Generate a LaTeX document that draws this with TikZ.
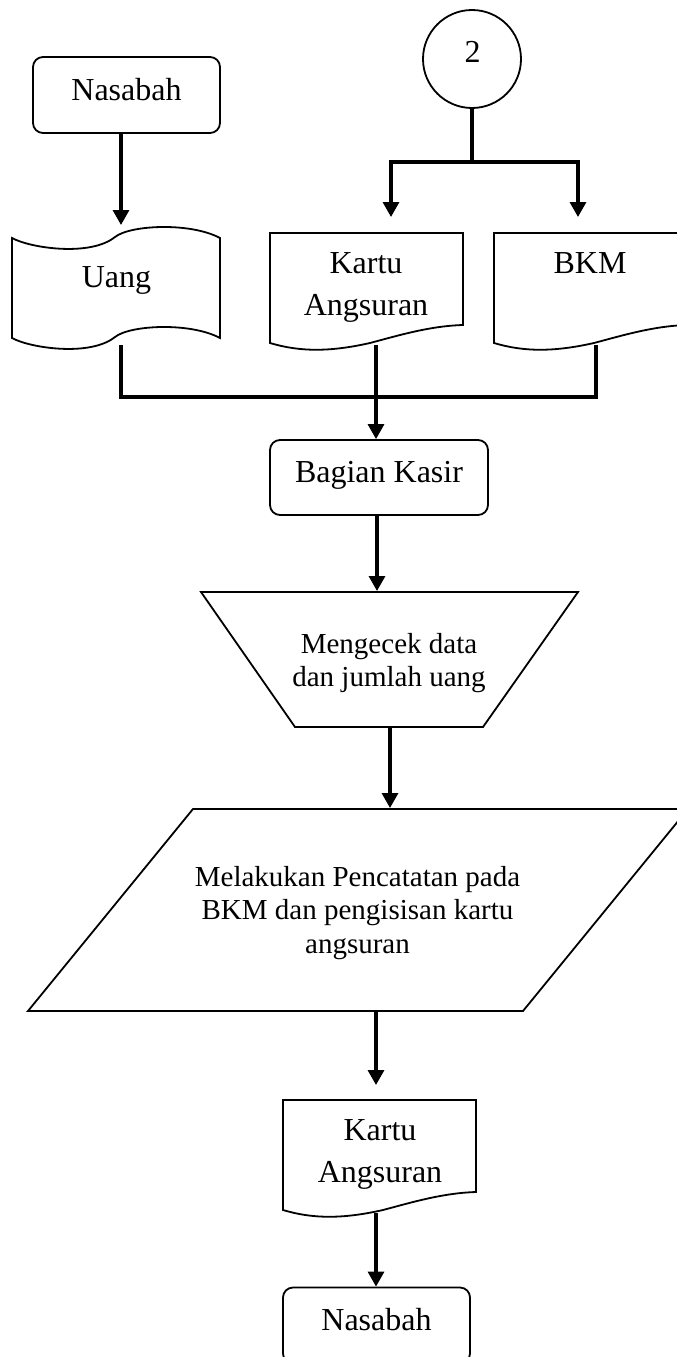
\documentclass[tikz,border=0pt]{standalone}
\usepackage{fontspec}
\setmainfont{Liberation Serif}
\usetikzlibrary{arrows.meta}
\begin{document}
\begin{tikzpicture}[x=1pt,y=-1pt,
  shapeline/.style={draw=black, line width=1.8pt},
  termbox/.style={shapeline, rounded corners=10pt, minimum width=187pt,
    minimum height=76pt, inner sep=0pt, text height=22pt, text depth=12pt,
    font=\fontsize{32}{41}\selectfont},
  lbl/.style={align=center, inner sep=0pt, font=\fontsize{32}{42}\selectfont},
  smalllbl/.style={align=center, inner sep=0pt, font=\fontsize{29}{33.5}\selectfont},
  flow/.style={line width=3.2pt, -{Triangle[width=16pt,length=15pt]}},
  link/.style={line width=3.2pt},
  docshape/.pic={
    \draw[shapeline] (0,0) -- (193,0) -- (193,92)
      .. controls (160,93) and (130,102) .. (100,110)
      .. controls (60,119) and (30,119) .. (0,110) -- cycle;
  },
]
\useasboundingbox (0,0) rectangle (677,1357);
\fill[white] (0,0) rectangle (677,1357);
\clip (0,0) rectangle (677,1357);

% --- customer and money
\node[termbox] (nas1) at (126.5,95) {Nasabah};
\coordinate (uangin) at (121,225);
\draw[flow] (nas1.south -| uangin) -- (uangin);

\draw[shapeline] (12,238) .. controls (30,248) and (90,257) .. (115,237)
  .. controls (130,225) and (190,222) .. (220,238) -- (220,338)
  .. controls (190,322) and (130,325) .. (115,337)
  .. controls (90,357) and (30,348) .. (12,338) -- cycle;
\node[lbl, anchor=base] (uang) at (116.5,287) {Uang};

% --- connector 2 and its documents
\node[shapeline, circle, minimum size=98pt, inner sep=0pt] (c2) at (472,59) {};
\node[lbl, anchor=base] (c2lbl) at (472.5,62.5) {2};
\coordinate (fork) at (472,162);
\coordinate (kartuin) at (391,217);
\coordinate (bkmin) at (578,217);
\draw[link] (c2.south) -- (fork);
\draw[flow] (fork) -| (kartuin);
\draw[flow] (fork) -| (bkmin);

\pic at (270,233) {docshape};
\node[lbl] (kartu1) at (366,287) {Kartu\\Angsuran};
\pic at (494,233) {docshape};
\node[lbl, anchor=base] (bkm) at (590,273) {BKM};

% --- documents merge into the cashier
\coordinate (uangout) at (121,345);
\coordinate (joinL) at (121,397);
\coordinate (bkmout) at (596,345);
\coordinate (kartuout) at (376,345);
\draw[link] (uangout) -- (joinL) -| (bkmout);

\node[termbox, minimum width=218pt, minimum height=75pt] (kasir) at (379,477.5) {Bagian Kasir};
\draw[flow] (kartuout) -- (kartuout |- kasir.north);

% --- manual check
\coordinate (trapin) at (377,591);
\draw[flow] (kasir.south -| trapin) -- (trapin);
\draw[shapeline] (201,592) -- (578,592) -- (483,727) -- (295,727) -- cycle;
\node[smalllbl] (cek) at (389,663) {Mengecek data\\dan jumlah uang};

% --- recording
\coordinate (trapout) at (390,727);
\coordinate (parain) at (390,808);
\draw[flow] (trapout) -- (parain);
\draw[shapeline] (193,809) -- (688,809) -- (523,1011) -- (28,1011) -- cycle;
\node[smalllbl] (catat) at (357.5,913) {Melakukan Pencatatan pada\\BKM dan pengisisan kartu\\angsuran};

% --- output card back to the customer
\coordinate (paraout) at (376,1011);
\coordinate (kartu2in) at (376,1085);
\draw[flow] (paraout) -- (kartu2in);
\pic at (283,1100) {docshape};
\node[lbl] (kartu2) at (380,1154) {Kartu\\Angsuran};

\coordinate (kartu2out) at (376,1213);
\node[termbox] (nas2) at (376.5,1325.5) {Nasabah};
\draw[flow] (kartu2out) -- (kartu2out |- nas2.north);
\end{tikzpicture}
\end{document}
